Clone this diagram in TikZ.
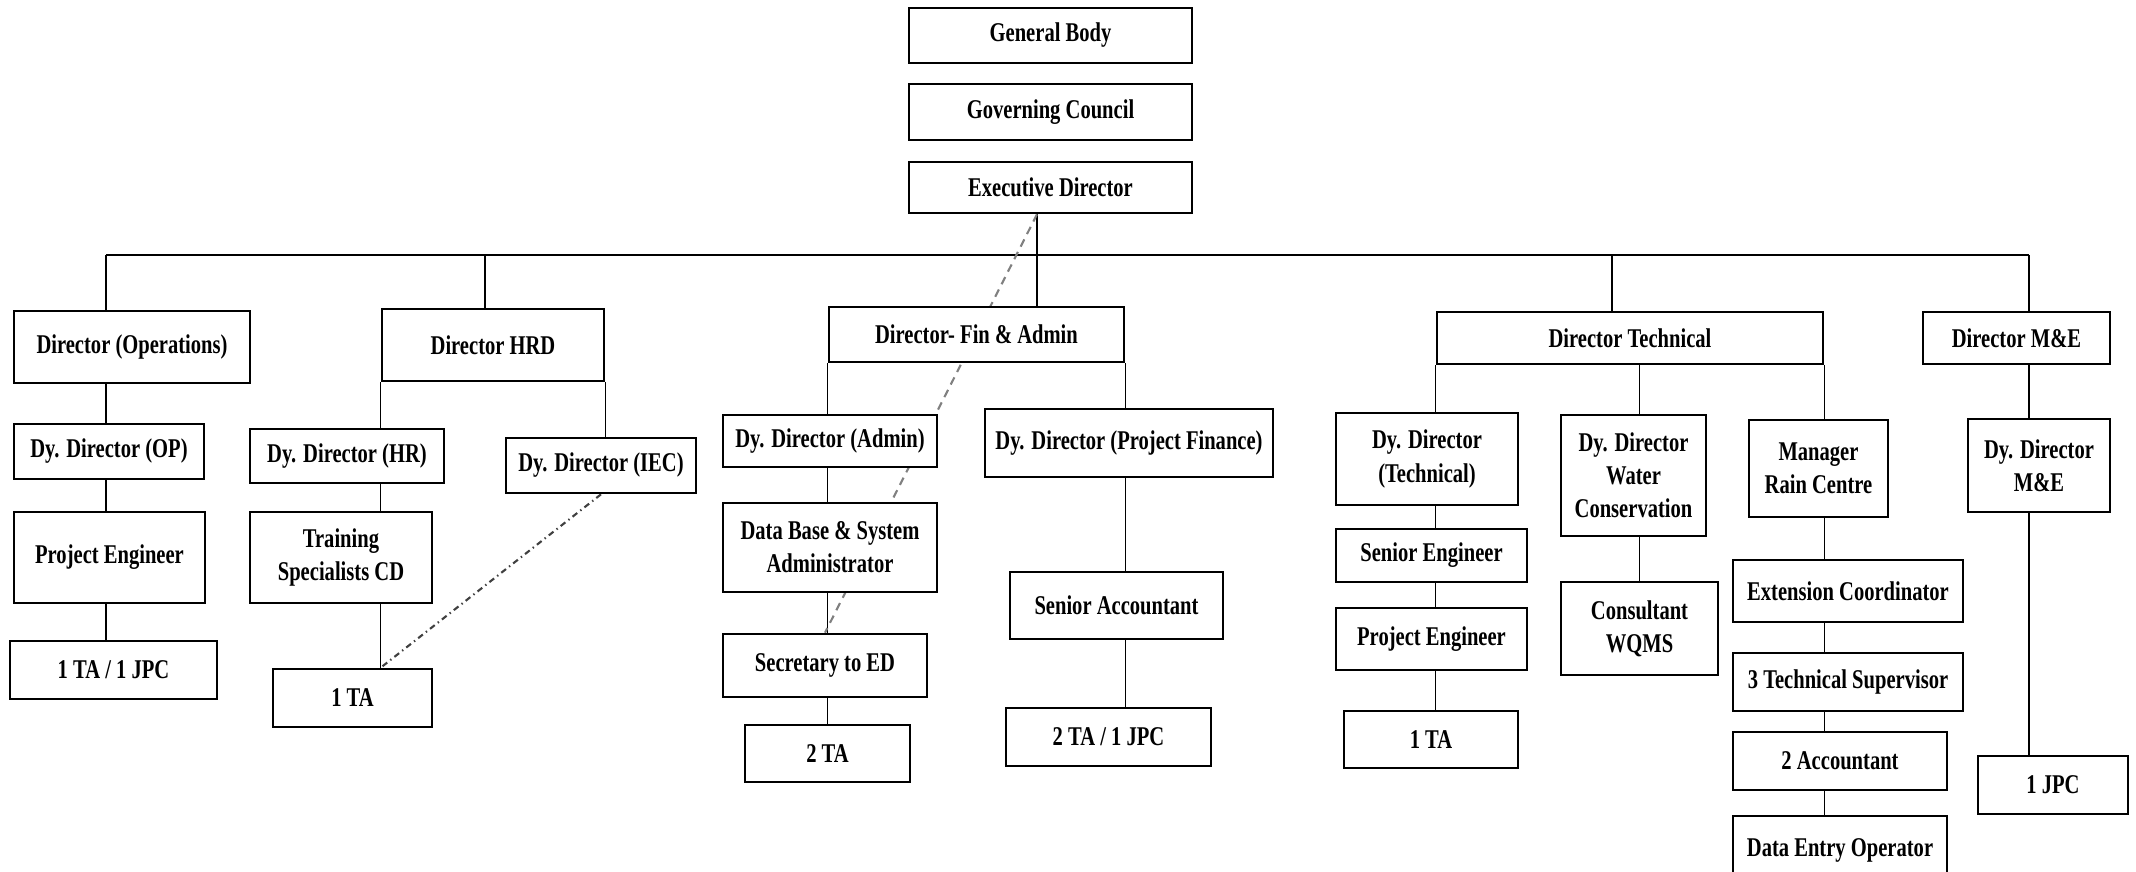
\documentclass[tikz,border=0pt]{standalone}
\usepackage{fontspec}
\setmainfont{Liberation Serif}[FakeStretch=0.76]
\usetikzlibrary{positioning}

\pgfdeclarelayer{bg}
\pgfsetlayers{bg,main}

\begin{document}
\begin{tikzpicture}[
        line width=0.7pt,
        box/.style={draw, fill=white, line width=0.75pt, inner sep=0pt, align=center,
            font=\fontsize{7.7pt}{9.4pt}\selectfont\bfseries},
        wh/.style 2 args={minimum width=#1cm, minimum height=#2cm},
        link/.style={gray, dash pattern=on 2.3pt off 1.7pt, line width=0.6pt},
        iec link/.style={darkgray, dash pattern=on 1.7pt off 1.1pt on 0.4pt off 1.1pt, line width=0.6pt}
    ]
    \useasboundingbox (0,0) rectangle (21.36,-8.72);
    \clip (0,0) rectangle (21.36,-8.72);

    % top of the chart
    \node [box, wh={2.83}{0.55}] (gb) at (10.505,-0.355) {General Body};
    \node [box, wh={2.83}{0.56}] (gc) at (10.505,-1.12) {Governing Council};
    \node [box, wh={2.83}{0.51}] (ed) at (10.505,-1.875) {Executive Director};

    \coordinate (b1) at (1.06,-2.55);
    \coordinate (b2) at (4.85,-2.55);
    \coordinate (b3) at (10.37,-2.55);
    \coordinate (b4) at (16.12,-2.55);
    \coordinate (b5) at (20.29,-2.55);

    % directors
    \node [box, wh={2.36}{0.72}] (dops) at (1.32,-3.47) {Director (Operations)};
    \node [box, wh={2.22}{0.72}] (dhrd) at (4.93,-3.45) {Director HRD};
    \node [box, wh={2.95}{0.55}] (dfin) at (9.765,-3.345) {Director- Fin \& Admin};
    \node [box, wh={3.86}{0.52}] (dtech) at (16.30,-3.38) {Director Technical};
    \node [box, wh={1.87}{0.52}] (dme) at (20.165,-3.38) {Director M\&E};

    % deputies
    \node [box, wh={1.90}{0.55}] (dyop) at (1.09,-4.515) {Dy. Director (OP)};
    \node [box, wh={1.94}{0.54}] (dyhr) at (3.47,-4.56) {Dy. Director (HR)};
    \node [box, wh={1.90}{0.55}] (dyiec) at (6.01,-4.655) {Dy. Director (IEC)};
    \node [box, wh={2.14}{0.52}] (dyadm) at (8.30,-4.41) {Dy. Director (Admin)};
    \node [box, wh={2.88}{0.68}] (dypf) at (11.29,-4.43) {Dy. Director (Project Finance)};
    \node [box, wh={1.82}{0.92}] (dytech) at (14.27,-4.59) {Dy. Director\\(Technical)};
    \node [box, wh={1.45}{1.21}] (dywc) at (16.335,-4.755) {Dy. Director\\Water\\Conservation};
    \node [box, wh={1.39}{0.97}] (mrc) at (18.185,-4.685) {Manager\\Rain Centre};
    \node [box, wh={1.42}{0.93}] (dyme) at (20.39,-4.655) {Dy. Director\\M\&E};

    % staff
    \node [box, wh={1.91}{0.91}] (pe1) at (1.095,-5.575) {Project Engineer};
    \node [box, wh={2.07}{0.58}] (ta1) at (1.135,-6.70) {1 TA / 1 JPC};
    \node [box, wh={1.82}{0.91}] (tsc) at (3.41,-5.575) {Training\\Specialists CD};
    \node [box, wh={1.59}{0.58}] (ta2) at (3.525,-6.98) {1 TA};
    \node [box, wh={2.14}{0.89}] (dbsa) at (8.30,-5.475) {Data Base \& System\\Administrator};
    \node [box, wh={2.04}{0.63}] (sec) at (8.25,-6.655) {Secretary to ED};
    \node [box, wh={1.65}{0.57}] (ta3) at (8.275,-7.535) {2 TA};
    \node [box, wh={2.13}{0.67}] (sacc) at (11.165,-6.055) {Senior Accountant};
    \node [box, wh={2.05}{0.58}] (ta4) at (11.085,-7.37) {2 TA / 1 JPC};
    \node [box, wh={1.91}{0.53}] (se) at (14.315,-5.555) {Senior Engineer};
    \node [box, wh={1.91}{0.62}] (pe2) at (14.315,-6.39) {Project Engineer};
    \node [box, wh={1.74}{0.57}] (ta5) at (14.31,-7.395) {1 TA};
    \node [box, wh={1.57}{0.93}] (cw) at (16.395,-6.285) {Consultant\\WQMS};
    \node [box, wh={2.30}{0.62}] (ec) at (18.48,-5.91) {Extension Coordinator};
    \node [box, wh={2.30}{0.58}] (tsup) at (18.48,-6.82) {3 Technical Supervisor};
    \node [box, wh={2.14}{0.58}] (acc) at (18.40,-7.61) {2 Accountant};
    \node [box, wh={2.14}{0.69}] (deo) at (18.40,-8.505) {Data Entry Operator};
    \node [box, wh={1.50}{0.58}] (jpc) at (20.53,-7.85) {1 JPC};

    \begin{pgfonlayer}{bg}
        \draw (b1) -- (b5);
        \draw (b3 |- ed.south) -- (b3 |- dfin.north);
        \draw (b2) -- (b2 |- dhrd.north);
        \draw (b4) -- (b4 |- dtech.north);

        \draw (b1) -- (b1 |- ta1.north);
        \draw (dhrd.south west) -- (dhrd.south west |- ta2.north);
        \draw (dhrd.south east) -- (dhrd.south east |- dyiec.north);
        \draw (dfin.south west) -- (dfin.south west |- ta3.north);
        \draw (dfin.south east) -- (dfin.south east |- ta4.north);
        \draw (dtech.south west) -- (dtech.south west |- ta5.north);
        \draw (dtech.south -| cw.north) -- (cw.north);
        \draw (dtech.south east) -- (dtech.south east |- deo.north);
        \draw (b5) -- (b5 |- jpc.north);

        \draw [link] (b3 |- ed.south) -- (sec.north);
        \draw [iec link] (dyiec.south) -- (dhrd.south west |- ta2.north);
    \end{pgfonlayer}
\end{tikzpicture}
\end{document}
